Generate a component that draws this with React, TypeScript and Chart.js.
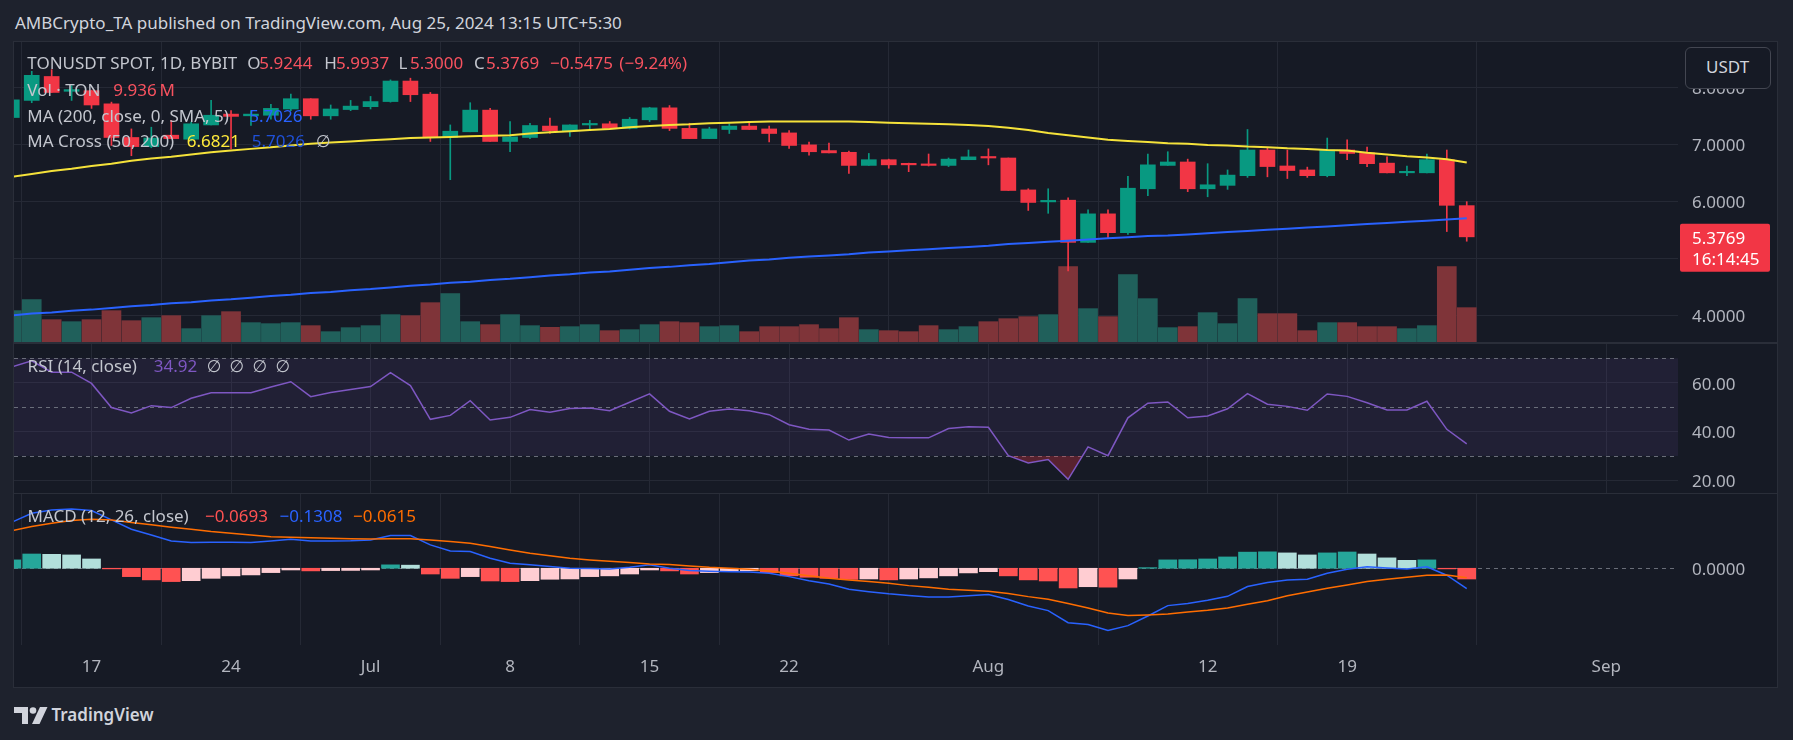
import React, { useEffect, useRef } from 'react';
import Chart from 'chart.js/auto';

// ---------------- data (TONUSDT 1D, Bybit; day index 0 = 2024-06-13) ----------------
const FIRST_DAY = '2024-06-13';
const TICK_DAYS = [4, 11, 18, 25, 32, 39, 49, 60, 67, 80];
const TICK_LABELS = ['17', '24', 'Jul', '8', '15', '22', 'Aug', '12', '19', 'Sep'];

const OPEN = [
  7.47, 7.77, 8.19, 7.93, 7.94, 7.71, 7.12, 6.96, 7.16, 7.09,
  7.34, 7.53, 7.50, 7.51, 7.62, 7.80, 7.50, 7.61, 7.66, 7.75,
  8.11, 7.88, 7.12, 7.22, 7.60, 7.05, 7.12, 7.32, 7.24, 7.34,
  7.36, 7.28, 7.43, 7.64, 7.28, 7.10, 7.26, 7.32, 7.27, 7.20,
  6.99, 6.89, 6.86, 6.63, 6.73, 6.65, 6.64, 6.63, 6.73, 6.78,
  6.76, 6.20, 5.99, 6.02, 5.28, 5.78, 5.45, 6.22, 6.63, 6.69,
  6.22, 6.28, 6.45, 6.90, 6.62, 6.55, 6.45, 6.90, 6.85, 6.67,
  6.50, 6.50, 6.73, 5.9244,
];
const HIGH = [
  7.83, 8.28, 8.31, 8.03, 7.95, 7.74, 7.27, 7.30, 7.42, 7.39,
  7.77, 7.59, 7.59, 7.70, 7.88, 7.80, 7.69, 7.77, 7.84, 8.13,
  8.16, 7.91, 7.34, 7.73, 7.63, 7.40, 7.37, 7.46, 7.34, 7.42,
  7.40, 7.47, 7.65, 7.68, 7.37, 7.30, 7.36, 7.37, 7.32, 7.24,
  7.04, 7.02, 6.88, 6.84, 6.74, 6.67, 6.83, 6.76, 6.90, 6.92,
  6.76, 6.22, 6.22, 6.06, 5.85, 5.85, 6.44, 6.83, 6.87, 6.74,
  6.66, 6.55, 7.26, 6.94, 6.90, 6.60, 7.11, 7.08, 6.95, 6.78,
  6.62, 6.83, 6.90, 5.9937,
];
const LOW = [
  7.43, 7.73, 7.91, 7.77, 7.63, 6.98, 6.80, 6.94, 7.10, 7.06,
  7.34, 6.92, 7.33, 7.44, 7.59, 7.44, 7.44, 7.59, 7.62, 7.74,
  7.75, 7.05, 6.38, 7.22, 7.05, 6.87, 7.10, 7.19, 7.14, 7.24,
  7.28, 7.27, 7.40, 7.24, 7.10, 7.10, 7.19, 7.26, 7.04, 6.93,
  6.81, 6.85, 6.49, 6.63, 6.58, 6.52, 6.62, 6.61, 6.73, 6.64,
  6.19, 5.84, 5.79, 4.78, 5.28, 5.36, 5.42, 6.10, 6.63, 6.17,
  6.08, 6.21, 6.42, 6.43, 6.40, 6.42, 6.43, 6.73, 6.61, 6.50,
  6.45, 6.50, 5.47, 5.30,
];
const CLOSE = [
  7.78, 8.21, 7.91, 7.96, 7.69, 7.12, 6.96, 7.11, 7.10, 7.36,
  7.51, 7.49, 7.53, 7.63, 7.80, 7.50, 7.62, 7.67, 7.75, 8.11,
  7.87, 7.12, 7.23, 7.60, 7.05, 7.13, 7.33, 7.24, 7.34, 7.36,
  7.28, 7.44, 7.64, 7.28, 7.10, 7.27, 7.32, 7.26, 7.19, 6.98,
  6.87, 6.85, 6.63, 6.73, 6.64, 6.64, 6.63, 6.74, 6.78, 6.76,
  6.19, 5.98, 6.01, 5.28, 5.78, 5.45, 6.23, 6.64, 6.69, 6.22,
  6.29, 6.46, 6.90, 6.61, 6.54, 6.45, 6.90, 6.84, 6.66, 6.50,
  6.51, 6.73, 5.93, 5.3769,
];
// volume in millions of TON
const VOLUME_M = [
  9.07, 12.25, 6.46, 5.88, 6.46, 9.07, 6.17, 7.04, 7.62, 3.86,
  7.62, 8.78, 5.60, 5.31, 5.60, 4.73, 2.99, 4.15, 4.73, 7.91,
  7.62, 11.38, 13.99, 5.88, 5.02, 7.91, 4.73, 4.24, 4.44, 5.02,
  3.28, 3.57, 5.02, 5.88, 5.60, 4.44, 4.73, 2.99, 4.44, 4.44,
  5.02, 3.86, 7.04, 3.57, 3.28, 2.99, 4.73, 3.57, 4.44, 5.88,
  6.75, 7.33, 7.91, 21.80, 9.65, 7.33, 19.49, 12.54, 4.15, 4.44,
  8.49, 5.31, 12.54, 8.20, 8.20, 3.28, 5.60, 5.60, 4.44, 4.44,
  3.86, 4.73, 21.80, 9.936,
];
const MA50 = [
  6.43, 6.48, 6.53, 6.57, 6.62, 6.66, 6.71, 6.75, 6.78, 6.82,
  6.86, 6.89, 6.92, 6.95, 6.98, 7.01, 7.03, 7.05, 7.07, 7.09,
  7.11, 7.12, 7.13, 7.14, 7.15, 7.16, 7.19, 7.21, 7.23, 7.25,
  7.27, 7.30, 7.32, 7.34, 7.35, 7.37, 7.38, 7.39, 7.40, 7.40,
  7.40, 7.40, 7.40, 7.39, 7.38, 7.37, 7.36, 7.35, 7.34, 7.32,
  7.29, 7.25, 7.20, 7.16, 7.12, 7.08, 7.06, 7.04, 7.02, 7.01,
  6.99, 6.98, 6.96, 6.95, 6.93, 6.92, 6.90, 6.89, 6.85, 6.82,
  6.79, 6.77, 6.74, 6.6821,
];
const MA200 = [
  4.00, 4.03, 4.05, 4.08, 4.10, 4.13, 4.16, 4.18, 4.21, 4.23,
  4.26, 4.28, 4.31, 4.34, 4.36, 4.39, 4.41, 4.44, 4.46, 4.49,
  4.52, 4.54, 4.57, 4.59, 4.62, 4.64, 4.67, 4.70, 4.72, 4.75,
  4.77, 4.80, 4.83, 4.85, 4.88, 4.90, 4.93, 4.96, 4.98, 5.01,
  5.03, 5.05, 5.07, 5.10, 5.12, 5.14, 5.16, 5.18, 5.20, 5.22,
  5.25, 5.27, 5.29, 5.31, 5.33, 5.35, 5.37, 5.39, 5.40, 5.42,
  5.44, 5.46, 5.48, 5.50, 5.52, 5.54, 5.56, 5.58, 5.60, 5.62,
  5.64, 5.66, 5.68, 5.7026,
];
const RSI = [
  66.5, 69.0, 64.3, 64.3, 59.7, 49.8, 47.6, 50.6, 49.8, 53.6,
  55.9, 55.9, 55.9, 58.2, 60.4, 54.3, 56.0, 57.2, 58.4, 64.1,
  58.8, 45.0, 46.6, 52.6, 44.7, 45.8, 49.0, 47.9, 49.4, 49.6,
  48.5, 52.0, 55.4, 48.3, 45.1, 48.3, 49.2, 48.5, 46.9, 42.8,
  40.9, 40.6, 36.5, 39.0, 37.5, 37.4, 37.4, 41.2, 41.9, 41.7,
  30.1, 27.1, 28.5, 20.4, 33.7, 30.1, 45.6, 51.6, 52.1, 45.6,
  46.4, 49.3, 55.5, 51.2, 50.3, 48.7, 55.4, 54.4, 51.8, 48.8,
  48.8, 52.4, 40.9, 34.92,
];
const MACD_LINE = [
  0.297, 0.355, 0.376, 0.383, 0.372, 0.312, 0.252, 0.215, 0.176, 0.166,
  0.168, 0.168, 0.166, 0.176, 0.187, 0.176, 0.176, 0.178, 0.183, 0.211,
  0.211, 0.151, 0.112, 0.108, 0.065, 0.032, 0.022, 0.011, 0.000, -0.002,
  -0.004, 0.006, 0.022, 0.000, -0.015, -0.019, -0.022, -0.024, -0.032, -0.054,
  -0.080, -0.101, -0.135, -0.151, -0.165, -0.176, -0.185, -0.185, -0.178, -0.170,
  -0.202, -0.243, -0.273, -0.351, -0.363, -0.402, -0.370, -0.308, -0.241, -0.228,
  -0.206, -0.181, -0.118, -0.092, -0.075, -0.071, -0.032, -0.006, 0.009, 0.002,
  -0.004, 0.009, -0.045, -0.1308,
];
const MACD_SIGNAL = [
  0.243, 0.269, 0.290, 0.308, 0.316, 0.312, 0.295, 0.280, 0.265, 0.252,
  0.237, 0.226, 0.215, 0.204, 0.200, 0.196, 0.194, 0.191, 0.189, 0.191,
  0.191, 0.183, 0.172, 0.161, 0.140, 0.118, 0.097, 0.080, 0.065, 0.054,
  0.045, 0.037, 0.028, 0.024, 0.015, 0.006, 0.000, -0.006, -0.017, -0.032,
  -0.049, -0.065, -0.075, -0.086, -0.096, -0.112, -0.123, -0.135, -0.142, -0.148,
  -0.163, -0.183, -0.200, -0.228, -0.256, -0.288, -0.305, -0.301, -0.295, -0.282,
  -0.271, -0.256, -0.232, -0.209, -0.178, -0.153, -0.129, -0.108, -0.086, -0.071,
  -0.058, -0.045, -0.043, -0.0615,
];
const MACD_HIST = [
  0.054, 0.092, 0.090, 0.086, 0.060, -0.004, -0.054, -0.075, -0.086, -0.080,
  -0.065, -0.049, -0.043, -0.028, -0.011, -0.017, -0.015, -0.014, -0.011, 0.022,
  0.020, -0.037, -0.065, -0.054, -0.082, -0.086, -0.080, -0.071, -0.069, -0.054,
  -0.049, -0.037, -0.011, -0.017, -0.037, -0.028, -0.018, -0.016, -0.028, -0.049,
  -0.058, -0.065, -0.072, -0.069, -0.075, -0.069, -0.062, -0.049, -0.030, -0.022,
  -0.049, -0.075, -0.082, -0.127, -0.119, -0.122, -0.069, 0.004, 0.054, 0.055,
  0.060, 0.073, 0.104, 0.106, 0.099, 0.086, 0.099, 0.105, 0.092, 0.067,
  0.051, 0.054, -0.004, -0.0693,
];
const PRICE_TICKS = [4, 5, 6, 7, 8];
const RSI_TICKS = [20, 40, 60];
const RSI_LEVELS = [70, 50, 30];
const MACD_TICKS = [0];
const COUNTDOWN = '16:14:45';

// ---------------- styling ----------------
const FONT = "'Noto Sans', 'DejaVu Sans', sans-serif";
const OUTER_BG = '#1e222d';
const CHART_BG = '#161a25';
const GRID = '#252935';
const SEP = '#2a2e39';
const AXIS_TEXT = '#b2b5be';
const LABEL = '#c3c6ce';
const UP = '#089981';
const DOWN = '#f23645';
const VOL_UP = '#20605b';
const VOL_DOWN = '#7f3439';
const X_MIN = 0.11;
const X_MAX = 83.6;
const AXIS_W = 99;
const VOL_MAX = 86.8;

const idx = CLOSE.map((_, i) => i);
const last = CLOSE.length - 1;
const isUp = (i: number) => CLOSE[i] >= OPEN[i];
const minus = (v: number, d: number) => (v < 0 ? '\u2212' + Math.abs(v).toFixed(d) : v.toFixed(d));

function xAxis(showLabels: boolean): any {
  return {
    type: 'linear',
    min: X_MIN,
    max: X_MAX,
    offset: false,
    afterBuildTicks: (s: any) => {
      s.ticks = TICK_DAYS.map((v) => ({ value: v }));
    },
    afterFit: (s: any) => {
      s.height = showLabels ? 42 : 0;
      s.paddingLeft = 0;
      s.paddingRight = 0;
    },
    grid: { color: GRID, drawTicks: false, lineWidth: 1 },
    border: { display: false },
    ticks: {
      display: showLabels,
      autoSkip: false,
      maxRotation: 0,
      padding: 12,
      color: AXIS_TEXT,
      font: { family: FONT, size: 17 },
      callback: (v: number) => {
        const k = TICK_DAYS.indexOf(v);
        return k >= 0 ? TICK_LABELS[k] : '';
      },
    },
  };
}

function yAxis(min: number, max: number, ticks: number[], fmt: (v: number) => string, gridOn: boolean): any {
  return {
    position: 'right',
    min,
    max,
    afterBuildTicks: (s: any) => {
      s.ticks = ticks.map((v) => ({ value: v }));
    },
    afterFit: (s: any) => {
      s.width = AXIS_W;
      s.paddingTop = 0;
      s.paddingBottom = 0;
    },
    grid: { display: gridOn, color: GRID, drawTicks: false },
    border: { display: false },
    ticks: {
      color: AXIS_TEXT,
      font: { family: FONT, size: 17 },
      padding: 14,
      labelOffset: 2,
      callback: (v: number) => fmt(v),
    },
  };
}

const baseOptions = {
  responsive: false,
  maintainAspectRatio: false,
  animation: false,
  events: [],
  layout: { padding: 0, autoPadding: false },
  plugins: { legend: { display: false }, tooltip: { enabled: false } },
};

const lastPricePlugin = {
  id: 'lastPrice',
  afterDraw(chart: any) {
    const { ctx } = chart;
    const y = chart.scales.y;
    const v = CLOSE[last];
    const py = y.getPixelForValue(v);
    const x0 = y.left + 2;
    ctx.save();
    ctx.fillStyle = DOWN;
    ctx.beginPath();
    ctx.roundRect(x0, py - 13, 90, 48, 2);
    ctx.fill();
    ctx.fillStyle = '#ffffff';
    ctx.font = `17px ${FONT}`;
    ctx.textBaseline = 'middle';
    ctx.textAlign = 'left';
    ctx.fillText(v.toFixed(4), y.left + 14, py + 2);
    ctx.fillText(COUNTDOWN, y.left + 14, py + 23);
    ctx.restore();
  },
};

const rsiBandPlugin = {
  id: 'rsiBand',
  beforeDatasetsDraw(chart: any) {
    const { ctx, chartArea } = chart;
    const y = chart.scales.y;
    const top = y.getPixelForValue(RSI_LEVELS[0]);
    const bot = y.getPixelForValue(RSI_LEVELS[RSI_LEVELS.length - 1]);
    ctx.save();
    ctx.fillStyle = 'rgba(126, 87, 194, 0.1)';
    ctx.fillRect(chartArea.left, top, chartArea.right - chartArea.left, bot - top);
    ctx.strokeStyle = 'rgba(120, 123, 134, 0.85)';
    ctx.lineWidth = 1;
    ctx.setLineDash([4, 4]);
    RSI_LEVELS.forEach((lv) => {
      const py = Math.round(y.getPixelForValue(lv)) + 0.5;
      ctx.beginPath();
      ctx.moveTo(chartArea.left, py);
      ctx.lineTo(chartArea.right, py);
      ctx.stroke();
    });
    ctx.restore();
  },
};

const macdZeroPlugin = {
  id: 'macdZero',
  beforeDatasetsDraw(chart: any) {
    const { ctx, chartArea } = chart;
    const y = chart.scales.y;
    const py = Math.round(y.getPixelForValue(0)) + 0.5;
    ctx.save();
    ctx.strokeStyle = 'rgba(120, 123, 134, 0.85)';
    ctx.lineWidth = 1;
    ctx.setLineDash([4, 4]);
    ctx.beginPath();
    ctx.moveTo(chartArea.left, py);
    ctx.lineTo(chartArea.right, py);
    ctx.stroke();
    ctx.restore();
  },
};

function histColor(i: number) {
  const v = MACD_HIST[i];
  const p = i > 0 ? MACD_HIST[i - 1] : v >= 0 ? v - 1 : v + 1;
  if (v >= 0) return v > p ? '#26a69a' : '#b2dfdb';
  return v < p ? '#ff5252' : '#ffcdd2';
}

function Txt(props: { x: number; y: number; color: string; children: any; size?: number; weight?: number }) {
  const size = props.size ?? 17;
  return (
    <span
      style={{
        position: 'absolute',
        left: props.x,
        top: props.y - 10.5,
        color: props.color,
        fontSize: size,
        fontWeight: props.weight ?? 400,
        lineHeight: '20px',
        whiteSpace: 'nowrap',
        fontFamily: FONT,
      }}
    >
      {props.children}
    </span>
  );
}

export default function App() {
  const priceRef = useRef<HTMLCanvasElement>(null);
  const rsiRef = useRef<HTMLCanvasElement>(null);
  const macdRef = useRef<HTMLCanvasElement>(null);

  useEffect(() => {
    document.body.style.margin = '0';
    document.body.style.background = OUTER_BG;

    const price = new Chart(priceRef.current as HTMLCanvasElement, {
      type: 'bar',
      data: {
        datasets: [
          {
            type: 'line',
            label: 'MA Cross 50',
            data: idx.map((i) => ({ x: i, y: MA50[i] })),
            borderColor: '#f5e23a',
            borderWidth: 2,
            pointRadius: 0,
            yAxisID: 'y',
            order: 0,
          } as any,
          {
            type: 'line',
            label: 'MA 200',
            data: idx.map((i) => ({ x: i, y: MA200[i] })),
            borderColor: '#2962ff',
            borderWidth: 2,
            pointRadius: 0,
            yAxisID: 'y',
            order: 0,
          },
          {
            type: 'bar',
            label: 'body',
            data: idx.map((i) => ({ x: i, y: [OPEN[i], CLOSE[i]] })),
            backgroundColor: idx.map((i) => (isUp(i) ? UP : DOWN)),
            barThickness: 15,
            minBarLength: 1.5,
            grouped: false,
            yAxisID: 'y',
            order: 1,
          },
          {
            type: 'bar',
            label: 'wick',
            data: idx.map((i) => ({ x: i, y: [LOW[i], HIGH[i]] })),
            backgroundColor: idx.map((i) => (isUp(i) ? UP : DOWN)),
            barThickness: 1,
            grouped: false,
            yAxisID: 'y',
            order: 2,
          },
          {
            type: 'bar',
            label: 'volume',
            data: idx.map((i) => ({ x: i, y: VOLUME_M[i] })),
            backgroundColor: idx.map((i) => (isUp(i) ? VOL_UP : VOL_DOWN)),
            barThickness: 19,
            grouped: false,
            yAxisID: 'yv',
            order: 3,
          },
        ] as any,
      },
      options: {
        ...baseOptions,
        scales: {
          x: xAxis(false),
          y: yAxis(3.532, 8.795, PRICE_TICKS, (v) => v.toFixed(4), true),
          yv: { display: false, min: 0, max: VOL_MAX },
        },
      } as any,
      plugins: [lastPricePlugin],
    });

    const rsi = new Chart(rsiRef.current as HTMLCanvasElement, {
      type: 'line',
      data: {
        datasets: [
          {
            label: 'RSI',
            data: idx.map((i) => ({ x: i, y: RSI[i] })),
            borderColor: '#7e57c2',
            borderWidth: 1.5,
            pointRadius: 0,
            fill: { target: { value: 30 }, above: 'rgba(0,0,0,0)', below: 'rgba(242, 54, 69, 0.3)' },
          },
        ] as any,
      },
      options: {
        ...baseOptions,
        scales: {
          x: xAxis(false),
          y: yAxis(14.8, 75.86, RSI_TICKS, (v) => v.toFixed(2), true),
        },
      } as any,
      plugins: [rsiBandPlugin],
    });

    const macd = new Chart(macdRef.current as HTMLCanvasElement, {
      type: 'bar',
      data: {
        datasets: [
          {
            type: 'line',
            label: 'Signal',
            data: idx.map((i) => ({ x: i, y: MACD_SIGNAL[i] })),
            borderColor: '#ff6d00',
            borderWidth: 1.5,
            pointRadius: 0,
            order: 0,
          },
          {
            type: 'line',
            label: 'MACD',
            data: idx.map((i) => ({ x: i, y: MACD_LINE[i] })),
            borderColor: '#2962ff',
            borderWidth: 1.5,
            pointRadius: 0,
            order: 1,
          },
          {
            type: 'bar',
            label: 'Histogram',
            data: idx.map((i) => ({ x: i, y: MACD_HIST[i] })),
            backgroundColor: idx.map((i) => histColor(i)),
            barThickness: 18,
            grouped: false,
            order: 2,
          },
        ] as any,
      },
      options: {
        ...baseOptions,
        scales: {
          x: xAxis(true),
          y: yAxis(-0.495, 0.479, MACD_TICKS, (v) => v.toFixed(4), false),
        },
      } as any,
      plugins: [macdZeroPlugin],
    });

    return () => {
      price.destroy();
      rsi.destroy();
      macd.destroy();
    };
  }, []);

  const chg = CLOSE[last] - OPEN[last];
  const pct = (chg / OPEN[last]) * 100;
  const red = '#f7525f';

  return (
    <div
      data-first-day={FIRST_DAY}
      style={{ position: 'relative', width: 1793, height: 740, background: OUTER_BG, overflow: 'hidden', fontFamily: FONT }}
    >
      <Txt x={15} y={23.3} color="#d1d4dc">
        AMBCrypto_TA published on TradingView.com, Aug 25, 2024 13:15 UTC+5:30
      </Txt>

      <div style={{ position: 'absolute', left: 13, top: 41, width: 1765, height: 647, background: SEP }}>
        <canvas ref={priceRef} width={1763} height={300} style={{ position: 'absolute', left: 1, top: 1, width: 1763, height: 300, background: CHART_BG }} />
        <canvas ref={rsiRef} width={1763} height={149} style={{ position: 'absolute', left: 1, top: 303, width: 1763, height: 149, background: CHART_BG }} />
        <canvas ref={macdRef} width={1763} height={193} style={{ position: 'absolute', left: 1, top: 453, width: 1763, height: 193, background: CHART_BG }} />
      </div>

      {/* price legend */}
      <Txt x={27.3} y={63.3} color={LABEL}>TONUSDT SPOT, 1D, BYBIT</Txt>
      <Txt x={247.3} y={63.3} color={LABEL}>O</Txt>
      <Txt x={259.3} y={63.3} color={red}>{OPEN[last].toFixed(4)}</Txt>
      <Txt x={324.3} y={63.3} color={LABEL}>H</Txt>
      <Txt x={336} y={63.3} color={red}>{HIGH[last].toFixed(4)}</Txt>
      <Txt x={398.5} y={63.3} color={LABEL}>L</Txt>
      <Txt x={410} y={63.3} color={red}>{LOW[last].toFixed(4)}</Txt>
      <Txt x={474} y={63.3} color={LABEL}>C</Txt>
      <Txt x={486} y={63.3} color={red}>{CLOSE[last].toFixed(4)}</Txt>
      <Txt x={550} y={63.3} color={red}>{minus(chg, 4)}</Txt>
      <Txt x={619.3} y={63.3} color={red}>({minus(pct, 2)}%)</Txt>

      <Txt x={27.3} y={90} color={LABEL}>Vol · TON</Txt>
      <Txt x={113.3} y={90} color={red}>{VOLUME_M[last].toFixed(3)}{'\u2009'}M</Txt>

      <Txt x={27.3} y={116} color={LABEL}>MA (200, close, 0, SMA, 5)</Txt>
      <Txt x={249.3} y={116} color="#2962ff">{MA200[last].toFixed(4)}</Txt>

      <Txt x={27.3} y={141.7} color={LABEL}>MA Cross (50, 200)</Txt>
      <Txt x={186.7} y={141.7} color="#ffeb3b">{MA50[last].toFixed(4)}</Txt>
      <Txt x={251.7} y={141.7} color="#1f50d8">{MA200[last].toFixed(4)}</Txt>
      <Txt x={316} y={141.7} color={LABEL}>∅</Txt>

      {/* RSI legend */}
      <Txt x={27.6} y={366} color={LABEL}>RSI (14, close)</Txt>
      <Txt x={153.8} y={366} color="#7e57c2">{RSI[last].toFixed(2)}</Txt>
      <Txt x={206.7} y={366} color={LABEL}>∅</Txt>
      <Txt x={229.6} y={366} color={LABEL}>∅</Txt>
      <Txt x={252.6} y={366} color={LABEL}>∅</Txt>
      <Txt x={275.6} y={366} color={LABEL}>∅</Txt>

      {/* MACD legend */}
      <Txt x={27.6} y={516.7} color={LABEL}>MACD (12, 26, close)</Txt>
      <Txt x={205} y={516.7} color="#ff5252">{minus(MACD_HIST[last], 4)}</Txt>
      <Txt x={279.6} y={516.7} color="#2962ff">{minus(MACD_LINE[last], 4)}</Txt>
      <Txt x={353} y={516.7} color="#ff6d00">{minus(MACD_SIGNAL[last], 4)}</Txt>

      {/* currency button */}
      <div
        style={{
          position: 'absolute',
          left: 1684.6,
          top: 46.7,
          width: 84,
          height: 40,
          border: '1px solid #434651',
          borderRadius: 6,
          background: CHART_BG,
          color: '#d1d4dc',
          fontSize: 17,
          lineHeight: '38px',
          textAlign: 'center',
          fontFamily: FONT,
        }}
      >
        USDT
      </div>

      {/* footer logo */}
      <svg style={{ position: 'absolute', left: 14, top: 706 }} width="34" height="19" viewBox="0 0 34 19">
        <path d="M0 1 H14 V18 H8 V7 H0 Z" fill="#d1d4dc" />
        <circle cx="19" cy="4.5" r="3.3" fill="#d1d4dc" />
        <path d="M26 1 H33.5 L25.5 18 H18 Z" fill="#d1d4dc" />
      </svg>
      <Txt x={51.5} y={715} color="#d1d4dc" weight={600}>TradingView</Txt>
    </div>
  );
}
